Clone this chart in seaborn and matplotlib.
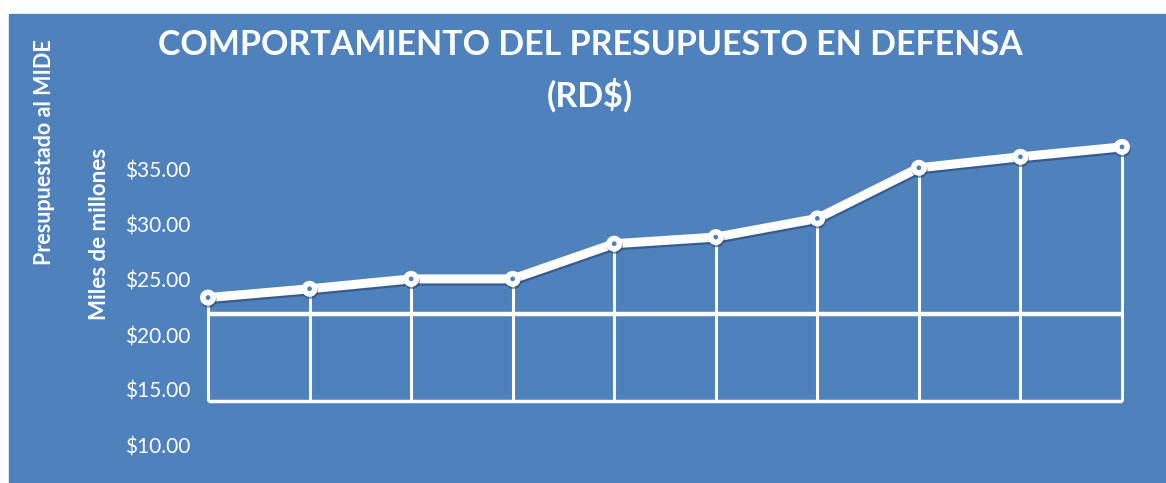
import numpy as np
import pandas as pd
import matplotlib
matplotlib.use("Agg")
import matplotlib.pyplot as plt
import matplotlib.patheffects as pe
import seaborn as sb

# datos (miles de millones RD$)
periodos = list(range(10))
presupuesto = [23.4, 24.2, 25.1, 25.1, 28.3, 28.9, 30.6, 35.2, 36.2, 37.1]
linea_ref = 21.9
base = 14.0
ticks = [10, 15, 20, 25, 30, 35]
tick_labels = ["$10.00", "$15.00", "$20.00", "$25.00", "$30.00", "$35.00"]

azul = "#4F81BD"
W, H = 1166, 483

sb.set_style("white")
plt.rcParams["font.family"] = ["Lato", "DejaVu Sans"]

fig = plt.figure(figsize=(W / 100, H / 100), dpi=100)
fig.patch.set_facecolor("white")
fig.patches.append(plt.Rectangle((9 / W, 0), (1166 - 9) / W, (H - 14) / H,
                                 transform=fig.transFigure, color=azul, zorder=-5))

# ejes: px 200..1160 en x, px 130..460 en y
left, right, top, bottom = 200, 1160, 130, 460
ax = fig.add_axes([left / W, 1 - bottom / H, (right - left) / W, (bottom - top) / H])
ax.set_zorder(2)
ax.set_facecolor("none")
paso = 101.5
ax.set_xlim((left - 208) / paso, 9 + (right - 1122) / paso)
ax.set_ylim(35 - (bottom - 170) / 11, 35 - (top - 170) / 11)

df = pd.DataFrame({"periodo": periodos, "presupuesto": presupuesto})

ax.vlines(df.periodo, base, df.presupuesto, color="white", lw=2.2, zorder=2)
ax.hlines(base, periodos[0], periodos[-1], color="white", lw=2.5, zorder=2)
ax.hlines(linea_ref, periodos[0], periodos[-1], color="white", lw=3.2, zorder=2)

sb.lineplot(data=df, x="periodo", y="presupuesto", ax=ax, color="white", lw=6.5,
            marker="o", markersize=7.5, markerfacecolor=azul, markeredgecolor="white",
            markeredgewidth=4, zorder=4, clip_on=False,
            path_effects=[pe.SimpleLineShadow(offset=(0.5, -1.6), shadow_color="#1F3A60",
                                              alpha=0.5), pe.Normal()])

ax.set_yticks(ticks)
ax.set_yticklabels(tick_labels, color="white", fontsize=15)
ax.set_xticks([])
ax.tick_params(axis="y", length=0, pad=7)
for s in ax.spines.values():
    s.set_visible(False)
ax.set_xlabel("")
ax.set_ylabel("")

fig.text(590 / W, 1 - 71 / H, "COMPORTAMIENTO DEL PRESUPUESTO EN DEFENSA\n(RD$)",
         ha="center", va="center", color="white", fontsize=24.5, fontweight="bold",
         linespacing=1.6)
fig.text(45 / W, 1 - 152 / H, "Presupuestado al MIDE", rotation=90, ha="center",
         va="center", color="white", fontsize=15.5, fontweight="bold")
fig.text(100 / W, 1 - 234 / H, "Miles de millones", rotation=90, ha="center",
         va="center", color="white", fontsize=16, fontweight="bold")

fig.savefig("out.png", dpi=100)
